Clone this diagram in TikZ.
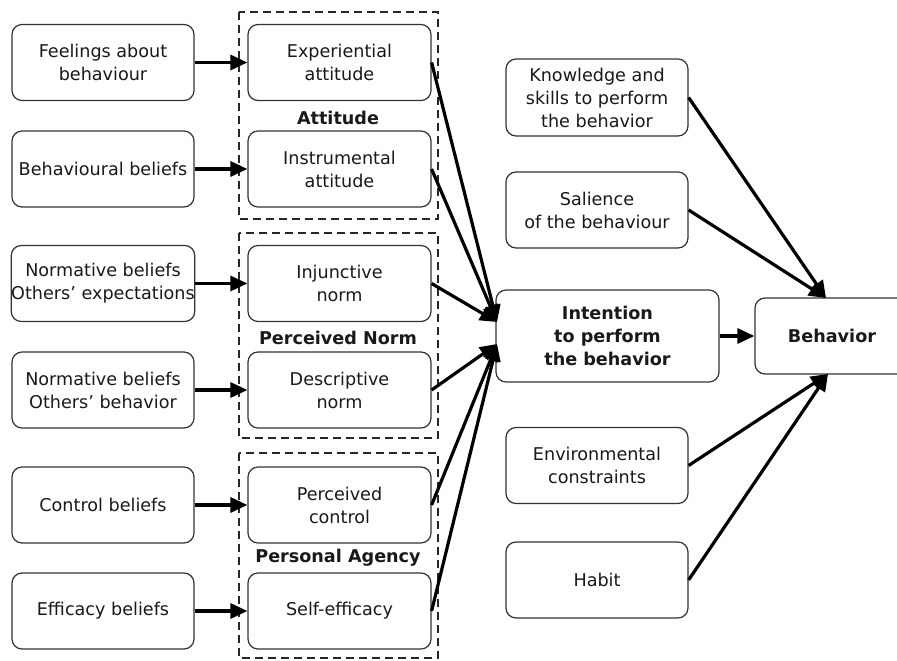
\documentclass[tikz,border=0pt]{standalone}
\usepackage{fontspec}
\setmainfont{DejaVu Sans}
\usetikzlibrary{arrows.meta}
\begin{document}
\begin{tikzpicture}[x=1pt,y=-1pt,
  box/.style={draw=black!80, line width=1.2pt, rounded corners=10pt, align=center,
    inner sep=0pt, text=black!90, font=\fontsize{17.6}{23}\selectfont},
  lbox/.style={box, minimum width=182pt, minimum height=76pt},
  rbox/.style={box, minimum width=182pt, minimum height=76pt},
  grp/.style={draw=black!85, line width=1.9pt, dash pattern=on 8pt off 5pt},
  lab/.style={font=\fontsize{17.6}{23}\selectfont\bfseries, text=black!90},
  arr/.style={line width=3.2pt, -{Triangle[length=17pt,width=15pt]}},
]
\clip (0,0) rectangle (897,661);
\fill[white] (0,0) rectangle (897,661);

% group frames
\draw[grp] (239,12) rectangle (438,219);
\draw[grp] (239,233) rectangle (438,438);
\draw[grp] (239,453) rectangle (438,658);
\node[lab] (gA) at (338,118) {Attitude};
\node[lab] (gN) at (338,338) {Perceived Norm};
\node[lab] (gP) at (338,558) {Personal Agency};

% left column
\node[lbox] (l1) at (103,62.5) {Feelings about\\behaviour};
\node[lbox] (l2) at (103,169) {Behavioural beliefs};
\node[lbox] (l3) at (103,283.5) {Normative beliefs\\Others’ expectations};
\node[lbox] (l4) at (103,390) {Normative beliefs\\Others’ behavior};
\node[lbox] (l5) at (103,505) {Control beliefs};
\node[lbox] (l6) at (103,611) {Efficacy beliefs};

% middle column
\node[lbox, minimum width=183pt] (m1) at (339.5,62.5) {Experiential\\attitude};
\node[lbox, minimum width=183pt] (m2) at (339.5,169) {Instrumental\\attitude};
\node[lbox, minimum width=183pt] (m3) at (339.5,283.5) {Injunctive\\norm};
\node[lbox, minimum width=183pt] (m4) at (339.5,390) {Descriptive\\norm};
\node[lbox, minimum width=183pt] (m5) at (339.5,505) {Perceived\\control};
\node[lbox, minimum width=183pt] (m6) at (339.5,611) {Self-efficacy};

% right column
\node[rbox, minimum height=77pt] (k) at (597,97.5) {Knowledge and\\skills to perform\\the behavior};
\node[rbox] (s) at (597,210) {Salience\\of the behaviour};
\node[rbox] (e) at (597,465.5) {Environmental\\constraints};
\node[rbox] (h) at (597,580) {Habit};

\node[box, minimum width=223pt, minimum height=92pt, font=\fontsize{17.6}{23}\selectfont\bfseries] (int) at (607.5,336) {Intention\\to perform\\the behavior};
\node[box, minimum width=154pt, minimum height=76pt, font=\fontsize{17.6}{23}\selectfont\bfseries] (beh) at (832,336) {Behavior};

% arrow target points
\coordinate (iu) at (497,322);
\coordinate (il) at (497,344);
\coordinate (bt) at (826,298);
\coordinate (bb) at (828,374);

% left -> middle
\foreach \i in {1,...,6} {\draw[arr] (l\i.east) -- (m\i.west);}

% middle -> intention
\draw[arr] (m1.east) -- (iu);
\draw[arr] (m2.east) -- (iu);
\draw[arr] (m3.east) -- (iu);
\draw[arr] (m4.east) -- (il);
\draw[arr] (m5.east) -- (il);
\draw[arr] (m6.east) -- (il);

% to behavior
\draw[arr] (int.east) -- (beh.west);
\draw[arr] (k.east) -- (bt);
\draw[arr] (s.east) -- (bt);
\draw[arr] (e.east) -- (bb);
\draw[arr] (h.east) -- (bb);
\end{tikzpicture}
\end{document}
